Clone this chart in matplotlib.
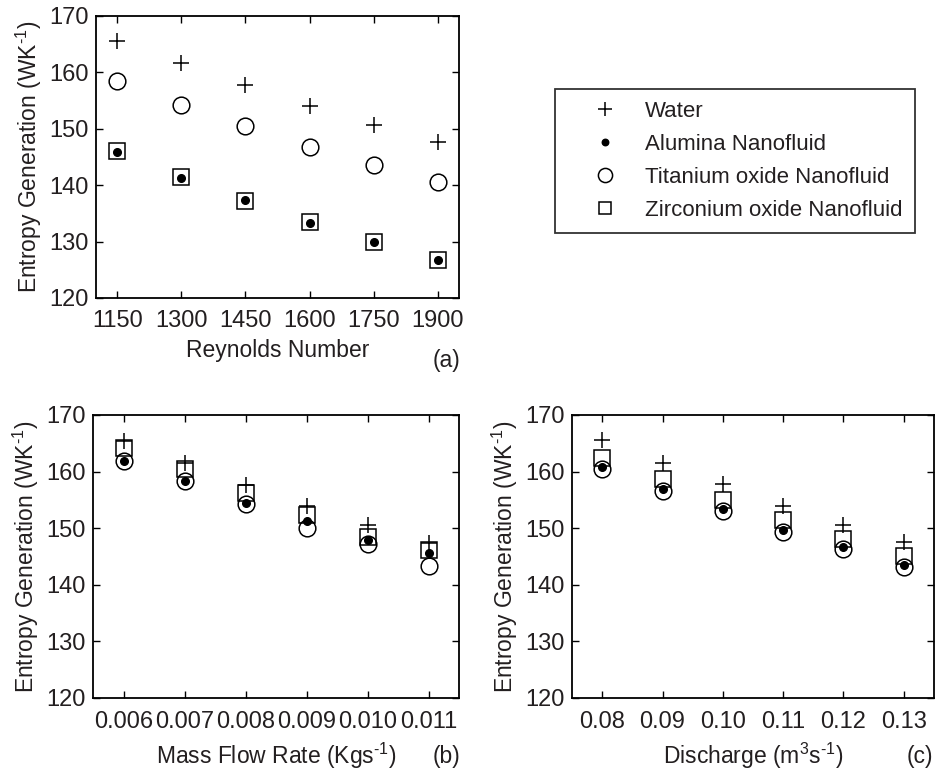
import matplotlib
matplotlib.use("Agg")
import matplotlib.pyplot as plt

plt.rcParams['font.family'] = ['Liberation Sans', 'DejaVu Sans']
plt.rcParams['mathtext.fontset'] = 'custom'
plt.rcParams['mathtext.rm'] = 'Liberation Sans'
plt.rcParams['mathtext.it'] = 'Liberation Sans'
plt.rcParams['mathtext.default'] = 'regular'

INK = '#231f20'
plt.rcParams['text.color'] = INK
plt.rcParams['axes.labelcolor'] = INK
plt.rcParams['xtick.labelcolor'] = INK
plt.rcParams['ytick.labelcolor'] = INK

# data
reynolds = [1150, 1300, 1450, 1600, 1750, 1900]
re_water = [165.6, 161.6, 157.8, 154.1, 150.7, 147.6]
re_alumina = [145.9, 141.3, 137.3, 133.3, 129.9, 126.8]
re_titanium = [158.4, 154.2, 150.5, 146.7, 143.6, 140.6]
re_zirconium = [146.1, 141.4, 137.2, 133.4, 130.0, 126.8]

mass_flow = [0.006, 0.007, 0.008, 0.009, 0.010, 0.011]
mf_labels = ['0.006', '0.007', '0.008', '0.009', '0.010', '0.011']
mf_water = [165.4, 161.6, 157.6, 153.9, 150.6, 147.4]
mf_alumina = [161.9, 158.4, 154.5, 151.2, 147.9, 145.6]
mf_titanium = [161.8, 158.3, 154.3, 150.1, 147.2, 143.3]
mf_zirconium = [164.1, 160.4, 156.3, 152.3, 148.4, 146.2]

discharge = [0.08, 0.09, 0.10, 0.11, 0.12, 0.13]
dc_labels = ['0.08', '0.09', '0.10', '0.11', '0.12', '0.13']
dc_water = [165.6, 161.5, 157.8, 154.0, 150.6, 147.5]
dc_alumina = [160.8, 156.9, 153.4, 149.6, 146.6, 143.5]
dc_titanium = [160.4, 156.6, 153.1, 149.4, 146.4, 143.2]
dc_zirconium = [162.4, 158.7, 154.9, 151.5, 148.1, 145.1]

series_names = ['Water', 'Alumina Nanofluid', 'Titanium oxide Nanofluid',
                'Zirconium oxide Nanofluid']

W, H = 936, 771
TICK_FS = 17
LABEL_FS = 16.5
fig = plt.figure(figsize=(W / 100, H / 100), dpi=100)


def px_axes(left, top, right, bottom):
    return fig.add_axes([left / W, 1 - bottom / H, (right - left) / W, (bottom - top) / H])


def draw(ax, x, water, alumina, titanium, zirconium):
    h1, = ax.plot(x, water, '+', color='k', ms=12, mew=1.1, ls='none')
    h4, = ax.plot(x, zirconium, 's', mfc='none', mec='k', ms=11, mew=1.1, ls='none')
    h3, = ax.plot(x, titanium, 'o', mfc='none', mec='k', ms=12, mew=1.1, ls='none')
    h2, = ax.plot(x, alumina, 'o', color='k', ms=5.5, ls='none')
    ax.set_ylim(120, 170)
    ax.set_yticks([120, 130, 140, 150, 160, 170])
    ax.tick_params(direction='in', top=True, right=True, length=5, width=1,
                   labelsize=TICK_FS, pad=5)
    ax.tick_params(axis='x', pad=9)
    for s in ax.spines.values():
        s.set_linewidth(1.3)
    ax.set_ylabel(r'Entropy Generation (WK$^{\text{-}1}$)', fontsize=LABEL_FS, labelpad=4)
    return [h1, h2, h3, h4]


ax_a = px_axes(96, 16, 459, 298)
handles = draw(ax_a, reynolds, re_water, re_alumina, re_titanium, re_zirconium)
ax_a.set_xlim(1100, 1950)
ax_a.set_xticks(reynolds)
ax_a.set_xlabel('Reynolds Number', fontsize=LABEL_FS, labelpad=5)

ax_b = px_axes(93, 415, 459, 698)
draw(ax_b, mass_flow, mf_water, mf_alumina, mf_titanium, mf_zirconium)
ax_b.set_xlim(0.0055, 0.0115)
ax_b.set_xticks(mass_flow)
ax_b.set_xticklabels(mf_labels)
ax_b.set_xlabel(r'Mass Flow Rate (Kgs$^{\text{-}1}$)', fontsize=LABEL_FS, labelpad=6)

ax_c = px_axes(572, 415, 934, 698)
draw(ax_c, discharge, dc_water, dc_alumina, dc_titanium, dc_zirconium)
ax_c.set_xlim(0.075, 0.135)
ax_c.set_xticks(discharge)
ax_c.set_xticklabels(dc_labels)
ax_c.set_xlabel(r'Discharge (m$^{3}$s$^{\text{-}1}$)', fontsize=LABEL_FS, labelpad=6)

fig.text(447 / W, 1 - 360 / H, '(a)', fontsize=LABEL_FS, ha='center', va='center')
fig.text(447 / W, 1 - 757 / H, '(b)', fontsize=LABEL_FS, ha='center', va='center')
fig.text(920 / W, 1 - 757 / H, '(c)', fontsize=LABEL_FS, ha='center', va='center')

leg = fig.legend(handles, series_names, loc='upper left',
                 bbox_to_anchor=(555 / W, 1 - 89 / H), fontsize=16,
                 frameon=True, fancybox=False, edgecolor='k',
                 handlelength=3.4, handletextpad=0.1, labelspacing=0.53,
                 borderpad=0.55, borderaxespad=0, markerscale=0.85)
leg.get_frame().set_linewidth(1.3)

fig.savefig('out.png', dpi=100)
